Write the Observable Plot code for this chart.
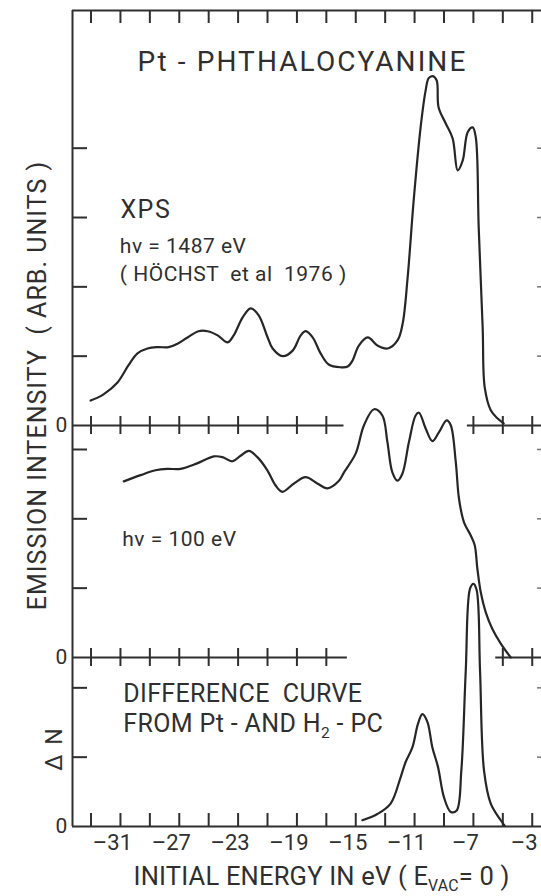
<!DOCTYPE html>
<html>
<head>
<meta charset="utf-8">
<script src="https://cdn.jsdelivr.net/npm/d3@7"></script>
<script src="https://cdn.jsdelivr.net/npm/@observablehq/plot@0.6"></script>
<style>
  html, body { margin: 0; padding: 0; background: #fff; overflow: hidden; }
  #chart svg { display: block; background: #fff; }
</style>
</head>
<body>
<div id="chart"></div>
<script>
// ---------------- data ----------------
// XPS spectrum, hv = 1487 eV (energy in eV, intensity in panel tick units)
const xpsEnergy = [-33.03,-32.15,-31.20,-30.45,-29.84,-29.16,-28.48,-27.73,-27.12,-26.44,-25.69,-25.07,-24.39,-23.71,-23.30,-22.69,-22.15,-21.60,-20.99,-20.65,-19.97,-19.29,-18.74,-18.40,-17.93,-17.39,-16.84,-16.03,-15.55,-15.21,-14.80,-14.18,-13.50,-12.83,-12.15,-11.81,-11.47,-11.06,-10.59,-10.25,-10.04,-9.77,-9.50,-9.37,-8.89,-8.41,-8.07,-7.73,-7.39,-7.05,-6.84,-6.64,-6.37,-6.23,-5.82,-5.35,-4.94];
const xpsIntensity = [0.36,0.45,0.62,0.87,1.04,1.11,1.13,1.13,1.18,1.27,1.36,1.36,1.30,1.20,1.30,1.56,1.69,1.59,1.27,1.11,1.00,1.08,1.30,1.36,1.27,1.04,0.88,0.84,0.85,0.94,1.15,1.27,1.15,1.11,1.23,1.47,2.14,3.25,4.30,4.83,5.01,5.04,4.98,4.59,4.36,4.14,3.68,3.82,4.23,4.30,4.16,2.86,1.41,0.55,0.22,0.10,0.03];

// hv = 100 eV spectrum
const uvEnergy = [-30.77,-29.63,-28.61,-27.82,-26.91,-25.78,-24.65,-24.07,-23.39,-22.83,-22.27,-21.69,-21.01,-20.45,-19.99,-19.20,-18.41,-17.61,-16.93,-16.14,-15.80,-15.01,-14.44,-13.76,-13.19,-12.85,-12.51,-12.17,-11.83,-11.38,-10.93,-10.70,-10.24,-9.79,-9.34,-8.82,-8.54,-8.20,-7.98,-7.64,-7.18,-6.91,-6.73,-6.50,-6.16,-5.71,-5.14,-4.46];
const uvIntensity = [2.54,2.63,2.70,2.72,2.72,2.80,2.90,2.89,2.83,2.91,2.98,2.89,2.70,2.48,2.39,2.51,2.60,2.51,2.44,2.55,2.67,2.94,3.35,3.58,3.49,3.11,2.67,2.55,2.65,3.11,3.49,3.53,3.30,3.12,3.25,3.42,3.35,2.82,2.29,1.95,1.76,1.62,1.28,0.94,0.65,0.41,0.20,0.00];

// difference curve Pt-PC minus H2-PC
const diffEnergy = [-14.55,-13.53,-12.63,-11.95,-11.61,-11.15,-10.77,-10.47,-10.13,-9.79,-9.41,-9.00,-8.54,-8.14,-7.82,-7.52,-7.23,-7.00,-6.78,-6.55,-6.28,-5.82,-5.14,-4.87];
const diffIntensity = [0.09,0.18,0.33,0.71,0.93,1.14,1.48,1.62,1.51,1.14,0.86,0.42,0.21,0.23,0.81,2.25,3.43,3.50,3.41,2.25,0.81,0.33,0.09,0.01];

// ticks
const frameTicks = [-33,-31,-29,-27,-25,-23,-21,-19,-17,-15,-13,-11,-9,-7,-5,-3];
const tickLabels = [-31,-27,-23,-19,-15,-11,-7,-3];
const xpsBaseTicks = [-33,-31,-29,-27,-25,-23,-21,-19,-17,-7,-5,-3];
const uvBaseTicks = [-33,-31,-29,-27,-25,-23,-21,-19,-17,-5,-3];
const xpsYTicks = [1,2,3,4];
const uvYTicks = [1,2,3];
const diffYTicks = [1,2];

// texts
const titleText = "Pt - PHTHALOCYANINE";
const yLabelText = "EMISSION INTENSITY  ( ARB. UNITS )";
const dnLabelText = "Δ N";
const xLabelText = "INITIAL ENERGY IN eV ( E_{VAC}= 0 )";
const xpsNotes = ["XPS", "hv = 1487 eV", "( HÖCHST  et al  1976 )"];
const uvNote = "hv = 100 eV";
const diffNotes = ["DIFFERENCE  CURVE", "FROM Pt - AND H_{2} - PC"];

// ---------------- layout ----------------
const W = 541, H = 896, mL = 72, mR = 0, mT = 10, mB = 70;
const xMin = -34.26, xMax = -2.37, yMax = 11.77;
const xpsBase = 5.784, uvBase = 2.438, diffBase = 0;
const xpsGap = [-15.80, -7.41], uvGap = [-15.57, -5.48];
const kx = (W - mL - mR) / (xMax - xMin);
const ky = (H - mT - mB) / yMax;
const ink = "#2f2f2f";
const ax = {stroke: ink, strokeWidth: 2};
const font = "Roboto, 'DejaVu Sans', sans-serif";

const zip = (xs, ys, base) => xs.map((x, i) => ({x, y: ys[i] + base}));
const xps = zip(xpsEnergy, xpsIntensity, xpsBase);
const uv = zip(uvEnergy, uvIntensity, uvBase);
const diff = zip(diffEnergy, diffIntensity, diffBase);
const leftTicks = [
  ...xpsYTicks.map(v => v + xpsBase),
  ...uvYTicks.map(v => v + uvBase),
  ...diffYTicks.map(v => v + diffBase)
];

const label = (t, x, y, o = {}) => Plot.text([t], {
  x: () => x, y: () => y, text: d => d,
  textAnchor: "start", lineAnchor: "bottom",
  fontFamily: font, fill: ink, ...o
});

const curve = data => Plot.line(data, {x: "x", y: "y", curve: "catmull-rom", stroke: "#262626", strokeWidth: 2.2, strokeLinejoin: "round"});

const svg = Plot.plot({
  width: W, height: H,
  marginLeft: mL, marginRight: mR, marginTop: mT, marginBottom: mB,
  x: {domain: [xMin, xMax], axis: null},
  y: {domain: [0, yMax], axis: null},
  marks: [
    // frame
    Plot.ruleX([xMin], {y1: 0, y2: yMax, ...ax}),
    Plot.ruleY([yMax], {x1: xMin, x2: xMax, ...ax}),
    Plot.ruleX(frameTicks, {x: d => d, y1: yMax, y2: yMax - 13 / ky, ...ax}),
    // bottom axis
    Plot.ruleY([0], {x1: xMin, x2: xMax, ...ax}),
    Plot.ruleX(frameTicks, {x: d => d, y1: 0, y2: 13 / ky, ...ax}),
    // broken baselines of upper panels
    Plot.ruleY([[xMin, xpsGap[0]], [xpsGap[1], xMax]], {y: () => xpsBase, x1: d => d[0], x2: d => d[1], ...ax}),
    Plot.ruleX(xpsBaseTicks, {x: d => d, y1: xpsBase - 9 / ky, y2: xpsBase + 9 / ky, ...ax}),
    Plot.ruleY([[xMin, uvGap[0]], [uvGap[1], xMax]], {y: () => uvBase, x1: d => d[0], x2: d => d[1], ...ax}),
    Plot.ruleX(uvBaseTicks, {x: d => d, y1: uvBase - 9 / ky, y2: uvBase + 9 / ky, ...ax}),
    // y ticks
    Plot.ruleY(leftTicks, {y: d => d, x1: xMin, x2: xMin + 15 / kx, ...ax}),
    Plot.ruleY(leftTicks, {y: d => d, x1: xMax - 4 / kx, x2: xMax, stroke: "#777", strokeWidth: 1.5}),
    // curves
    curve(xps), curve(uv), curve(diff),
    // tick labels
    Plot.text(tickLabels, {x: d => d, y: () => 0, text: d => "–" + Math.abs(d), dx: -8, dy: 23,
      lineAnchor: "bottom", fontSize: 22, fontFamily: font, fill: ink}),
    Plot.text([xpsBase, uvBase, diffBase], {x: () => xMin, y: d => d, text: () => "0", dx: -11,
      textAnchor: "middle", lineAnchor: "middle", fontSize: 21, fontFamily: font, fill: ink}),
    // texts
    label(titleText, -29.84, 10.90, {fontSize: 28, ariaDescription: "title"}),
    label(xpsNotes[0], -31.0, 8.784, {fontSize: 25, ariaDescription: "xps"}),
    label(xpsNotes[1], -31.04, 8.275, {fontSize: 21, ariaDescription: "note"}),
    label(xpsNotes[2], -31.04, 7.868, {fontSize: 21, ariaDescription: "note"}),
    label(uvNote, -30.88, 4.053, {fontSize: 21, ariaDescription: "note"}),
    label(diffNotes[0], -30.81, 1.793, {fontSize: 25, ariaDescription: "diff"}),
    label(diffNotes[1], -30.81, 1.360, {fontSize: 25, ariaDescription: "diff"}),
    label(xLabelText, -30.11, -0.84, {fontSize: 25.5, ariaDescription: "xlabel"}),
    label(yLabelText, -36.6, 6.36, {fontSize: 25, rotate: -90, textAnchor: "middle", lineAnchor: "middle", ariaDescription: "ylabel"}),
    label(dnLabelText, -35.48, 1.125, {fontSize: 23, rotate: -90, textAnchor: "middle", lineAnchor: "middle", ariaDescription: "dn"})
  ]
});

// letter spacing per text group
const spacing = {title: 2.1, xps: 1.5, note: 0.5, diff: 0.35, xlabel: 0.2, ylabel: 1.0, dn: 2};
d3.select(svg).selectAll("g[aria-description]").each(function () {
  const k = this.getAttribute("aria-description");
  if (k in spacing) d3.select(this).selectAll("text").attr("letter-spacing", spacing[k]);
});
// subscripts written as _{...}
d3.select(svg).selectAll("text").each(function () {
  const t = this.textContent;
  if (!t.includes("_{")) return;
  const el = d3.select(this);
  el.text(null);
  let pending = false;
  t.split(/(_\{[^}]*\})/).filter(s => s).forEach(p => {
    if (p.startsWith("_{")) {
      el.append("tspan").attr("font-size", "62%").attr("dy", "0.4em").text(p.slice(2, -1));
      pending = true;
    } else {
      const ts = el.append("tspan").text(p);
      if (pending) { ts.attr("dy", "-0.25em"); pending = false; }
    }
  });
});

document.getElementById("chart").appendChild(svg);
</script>
</body>
</html>
